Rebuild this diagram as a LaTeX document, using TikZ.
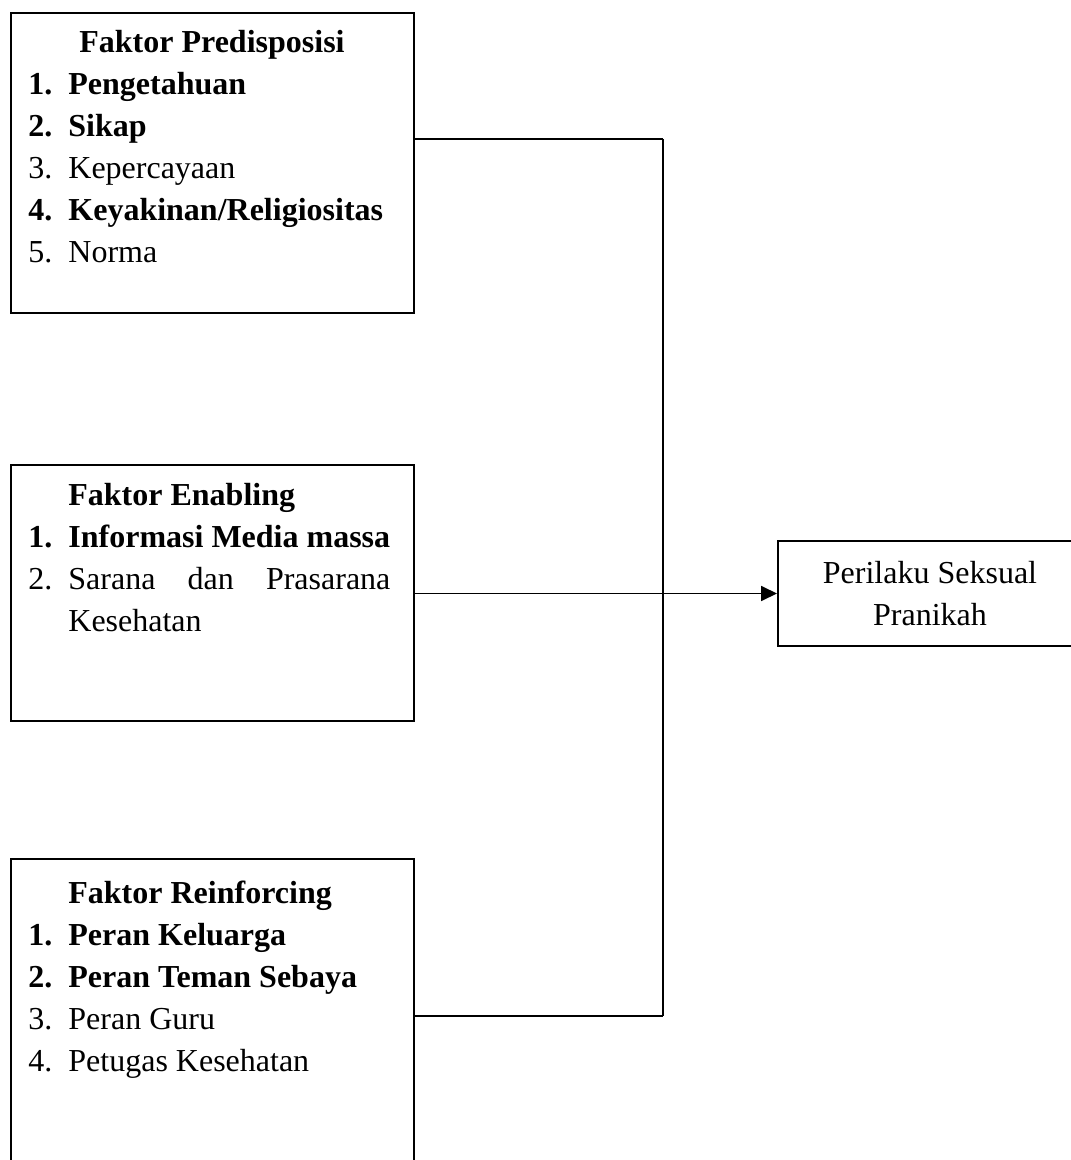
\documentclass[tikz,border=0pt]{standalone}
\usepackage{fontspec}
\setmainfont{Liberation Serif}
\usetikzlibrary{arrows.meta,positioning,calc}

\tikzset{
  faktor/.style={draw, line width=1pt, inner sep=0pt, anchor=north west, minimum width=201.5pt},
  butir/.style={anchor=base west, inner sep=0pt},
  judul/.style={anchor=base west, inner sep=0pt, font=\fontsize{16}{21}\selectfont\bfseries},
  konektor/.style={line width=0.9pt},
}

\begin{document}
\begin{tikzpicture}[x=0.5pt, y=-0.5pt, every node/.append style={font=\fontsize{16}{21}\selectfont}]
\useasboundingbox (0,0) rectangle (1070,1160);
% Boxes
\node[faktor, minimum height=150pt] (pre) at (10,12) {};
\node[faktor, minimum height=128pt] (ena) at (10,464) {};
\node[faktor, minimum height=158pt] (rein) at (10,858) {};
\node[draw, line width=1pt, minimum width=152pt, minimum height=52.5pt, align=center, inner sep=0pt] (out) at (930,593.5) {Perilaku Seksual\\Pranikah};
% Faktor Predisposisi
\node[judul, anchor=base] (tpre) at (212,53) {Faktor Predisposisi};
\foreach \y/\n/\t/\f in {95/1/Pengetahuan/\bfseries, 137/2/Sikap/\bfseries, 179/3/Kepercayaan/\mdseries, 221/4/{Keyakinan/Religiositas}/\bfseries, 263/5/Norma/\mdseries} {
  \node[butir] (pn\n) at (28,\y) {\f\n.};
  \node[butir] (pt\n) at (68,\y) {\f\t};
}
% Faktor Enabling
\node[judul] (tena) at (68,505) {Faktor Enabling};
\node[butir] (en1) at (28,547) {\bfseries 1.};
\node[butir] (et1) at (68,547) {\bfseries Informasi Media massa};
\node[butir] (en2) at (28,589) {2.};
\node[butir] (et2) at (68,589) {\makebox[161pt][s]{Sarana dan Prasarana}};
\node[butir] (et2b) at (68,631) {Kesehatan};
% Faktor Reinforcing
\node[judul] (trein) at (68,903) {Faktor Reinforcing};
\foreach \y/\n/\t/\f in {945/1/Peran Keluarga/\bfseries, 987/2/Peran Teman Sebaya/\bfseries, 1029/3/Peran Guru/\mdseries, 1071/4/Petugas Kesehatan/\mdseries} {
  \node[butir] (rn\n) at (28,\y) {\f\n.};
  \node[butir] (rt\n) at (68,\y) {\f\t};
}
% Connectors
\coordinate (bt) at (663,139);
\coordinate (bb) at (663,1016);
\draw[konektor] (bt) -- (bb);
\draw[konektor] (bt -| pre.east) -- (bt);
\draw[konektor] (bb -| rein.east) -- (bb);
\draw[konektor, -{Triangle[length=8pt, width=7.5pt]}] (out.west -| ena.east) -- (out.west);
\end{tikzpicture}
\end{document}
